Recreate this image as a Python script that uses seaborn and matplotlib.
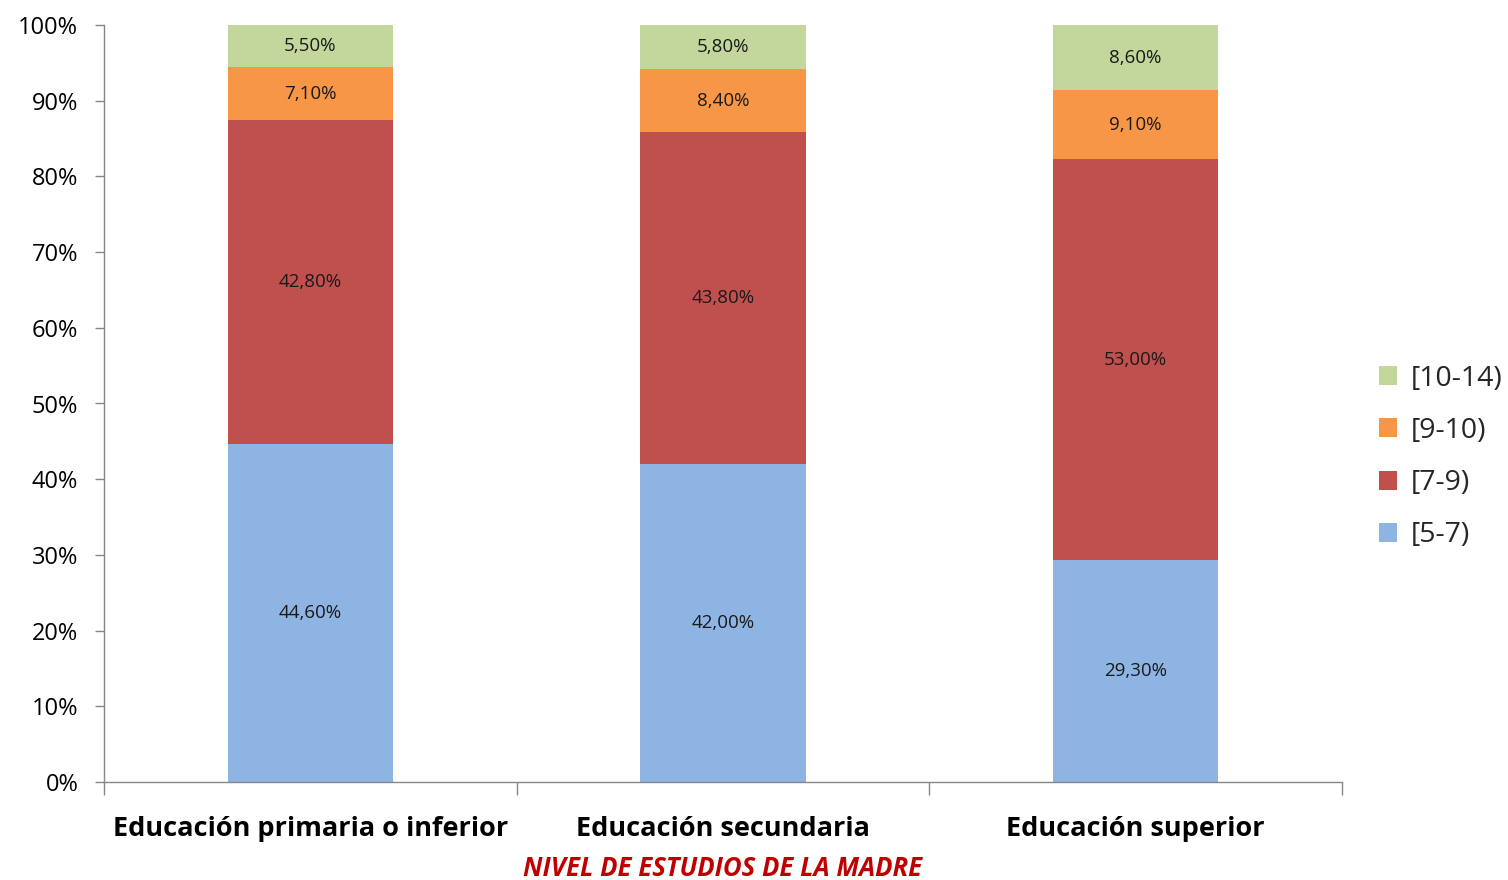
import numpy as np
import pandas as pd
import matplotlib
matplotlib.use("Agg")
import matplotlib.pyplot as plt
import seaborn as sns

# Nivel de estudios de la madre y distribución por tramo
categorias = ["Educación primaria o inferior", "Educación secundaria", "Educación superior"]
tramos = ["[5-7)", "[7-9)", "[9-10)", "[10-14)"]
v_5_7 = [44.6, 42.0, 29.3]
v_7_9 = [42.8, 43.8, 53.0]
v_9_10 = [7.1, 8.4, 9.1]
v_10_14 = [5.5, 5.8, 8.6]
colores = ["#8EB4E3", "#C0504D", "#F79646", "#C3D69B"]
yticks_labels = ["0%", "10%", "20%", "30%", "40%", "50%", "60%", "70%", "80%", "90%", "100%"]

sns.set_theme(style="white")
plt.rcParams["font.family"] = ["Open Sans", "DejaVu Sans"]

series = [v_5_7, v_7_9, v_9_10, v_10_14]
df = pd.DataFrame({"categoria": categorias})
for t, v in zip(tramos, series):
    df[t] = v
cum = np.cumsum(np.array(series), axis=0)
for i, t in enumerate(tramos):
    df["cum_" + t] = cum[i]

fig = plt.figure(figsize=(15.08, 8.8), dpi=100)
ax = fig.add_axes([104 / 1508, 1 - 782 / 880, (1342 - 104) / 1508, (782 - 25) / 880])

# Stacked bars: draw cumulative totals from the top segment down
for i in range(len(tramos) - 1, -1, -1):
    t = tramos[i]
    sns.barplot(data=df, x="categoria", y="cum_" + t, order=categorias,
                color=colores[i], saturation=1, width=0.4, ax=ax,
                linewidth=0, label=t)

# Segment labels at the centre of each segment
for j, cat in enumerate(categorias):
    base = 0.0
    for i, t in enumerate(tramos):
        val = series[i][j]
        ax.text(j, base + val / 2, f"{val:.2f}%".replace(".", ","),
                ha="center", va="center", fontsize=13.5, color="#1a1a1a")
        base += val

ax.set_xlim(-0.5, 2.5)
ax.set_ylim(0, 100)
ax.set_yticks(np.arange(0, 101, 10))
ax.set_yticklabels(yticks_labels)
ax.set_xticks(range(len(categorias)))
ax.set_xticklabels(categorias, fontweight="bold")
ax.set_xticks([-0.5, 0.5, 1.5, 2.5], minor=True)
ax.tick_params(axis="x", which="major", length=0, pad=24.5, labelsize=19.5, labelcolor="#000000")
ax.tick_params(axis="x", which="minor", length=9, width=1, color="#868686", direction="out", bottom=True)
ax.tick_params(axis="y", which="major", length=6.5, width=1, color="#868686", direction="out",
               left=True, pad=12, labelsize=17, labelcolor="#000000")
ax.set_xlabel("")
ax.set_ylabel("")

for s in ["top", "right"]:
    ax.spines[s].set_visible(False)
for s in ["left", "bottom"]:
    ax.spines[s].set_color("#868686")
    ax.spines[s].set_linewidth(1)

fig.text(723 / 1508, 1 - 868 / 880, "NIVEL DE ESTUDIOS DE LA MADRE", ha="center", va="center",
         fontsize=18.5, fontweight="bold", fontstyle="italic", color="#C00000")

h, l = ax.get_legend_handles_labels()
if ax.get_legend() is not None:
    ax.get_legend().remove()
fig.legend(h, l, loc="center left", bbox_to_anchor=(1365 / 1508, 1 - 457 / 880),
           frameon=False, fontsize=20.5, handlelength=0.64, handleheight=0.64,
           handletextpad=0.45, labelspacing=0.85, borderpad=0)

fig.savefig("out.png", dpi=100)
